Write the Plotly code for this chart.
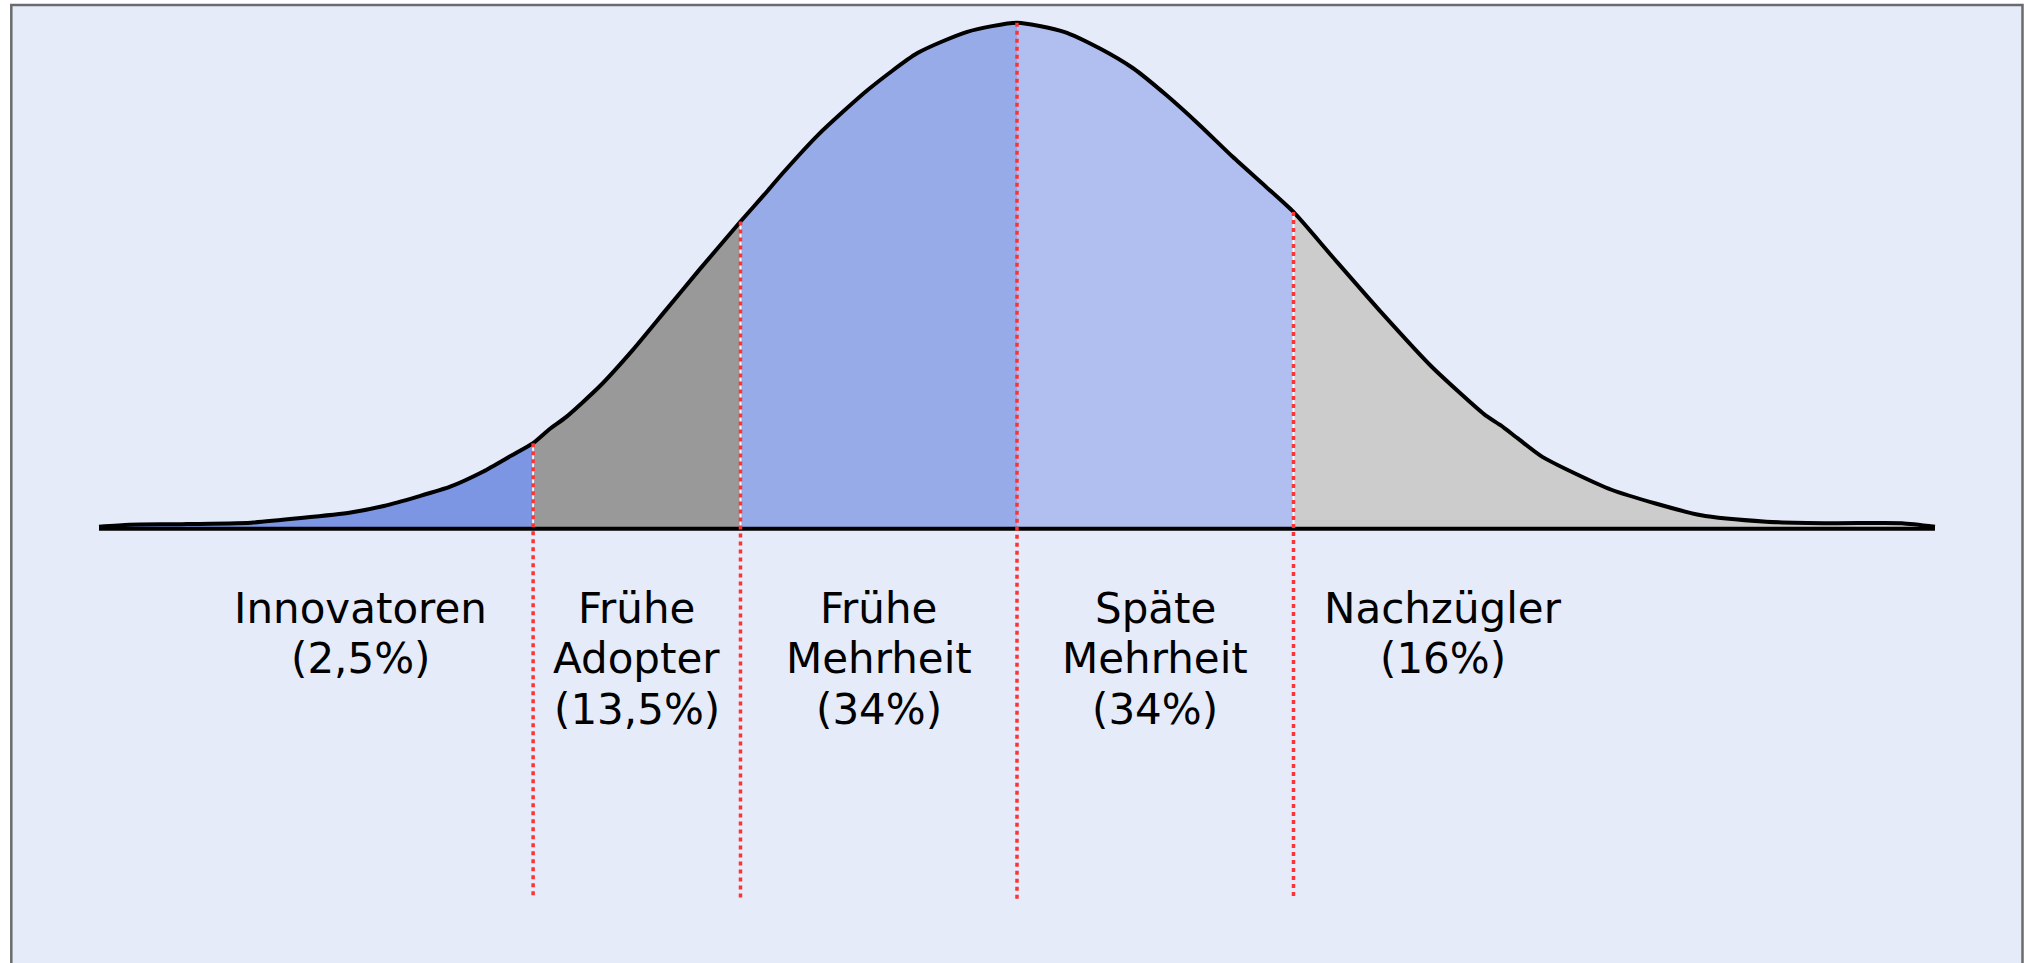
import plotly.graph_objects as go

# ---------------- data ----------------
# Bell curve of adopter categories: x in standard deviations from the mean,
# y as share of the peak height (%).
curve_x = [-3.32, -3.21, -3.02, -2.77, -2.59, -2.41, -2.29, -2.17, -2.05, -1.93,
           -1.83, -1.75, -1.69, -1.63, -1.51, -1.39, -1.27, -1.15, -1.0, -0.90,
           -0.85, -0.72, -0.54, -0.36, -0.18, 0.0, 0.17, 0.30, 0.42, 0.54,
           0.66, 0.78, 0.90, 1.0, 1.14, 1.32, 1.50, 1.69, 1.75, 1.81,
           1.90, 2.15, 2.47, 2.71, 2.95, 3.20, 3.32]
curve_y = [0.4, 0.8, 0.9, 1.2, 2.1, 3.2, 4.5, 6.3, 8.3, 11.3,
           14.4, 16.9, 19.7, 22.1, 28.1, 35.3, 43.2, 51.1, 60.7, 66.9,
           70.1, 77.8, 86.7, 94.0, 98.2, 100.0, 98.2, 94.9, 91.0, 85.7,
           79.8, 73.5, 67.6, 62.6, 53.8, 42.6, 32.0, 22.6, 20.4, 17.9,
           14.2, 7.7, 2.7, 1.4, 1.1, 1.1, 0.4]

boundaries = [-1.75, -1.0, 0.0, 1.0]
categories = ["Innovatoren", "Frühe Adopter", "Frühe Mehrheit", "Späte Mehrheit", "Nachzügler"]
shares = ["2,5%", "13,5%", "34%", "34%", "16%"]
label_lines = [["Innovatoren"], ["Frühe", "Adopter"], ["Frühe", "Mehrheit"],
               ["Späte", "Mehrheit"], ["Nachzügler"]]

# ---------------- style ----------------
fill_colors = ["#7D96E3", "#999999", "#97ABE8", "#B0BFEF", "#CCCCCC"]
label_x = [-2.375, -1.375, -0.5, 0.5, 1.54]
label_top = -10.5
line_step = -10.0
divider_bottom = -73.2
FONT = "DejaVu Sans, Verdana, sans-serif"

W, H = 2024, 963
x_range = [-3.6781, 3.6420]
y_range = [-85.83, 104.49]

fig = go.Figure()

# filled segments
edges = [curve_x[0]] + boundaries + [curve_x[-1]]
for i, cat in enumerate(categories):
    lo, hi = edges[i], edges[i + 1]
    idx = [k for k, xv in enumerate(curve_x) if lo <= xv <= hi]
    xs = [curve_x[k] for k in idx]
    ys = [curve_y[k] for k in idx]
    fig.add_trace(go.Scatter(
        x=xs + [xs[-1], xs[0]], y=ys + [0, 0],
        fill="toself", fillcolor=fill_colors[i], mode="lines",
        line=dict(width=0, color=fill_colors[i]),
        name=cat, hoverinfo="skip", showlegend=False))

# light seams under the dividers inside the fills
for b in boundaries:
    if b == 0.0:
        continue
    top = curve_y[curve_x.index(b)]
    fig.add_trace(go.Scatter(
        x=[b, b], y=[0, top], mode="lines",
        line=dict(color="rgba(255,255,255,0.85)", width=2),
        hoverinfo="skip", showlegend=False))

# curve outline
fig.add_trace(go.Scatter(
    x=curve_x, y=curve_y, mode="lines",
    line=dict(color="black", width=4, shape="spline", smoothing=0.6),
    hoverinfo="skip", showlegend=False))

# baseline
fig.add_trace(go.Scatter(
    x=[curve_x[0], curve_x[-1]], y=[0, 0], mode="lines",
    line=dict(color="black", width=4),
    hoverinfo="skip", showlegend=False))

# red dotted dividers
for b in boundaries:
    top = curve_y[curve_x.index(b)]
    fig.add_trace(go.Scatter(
        x=[b, b], y=[top, divider_bottom], mode="lines",
        line=dict(color="#FF3333", width=3.5, dash="4px,4px"),
        hoverinfo="skip", showlegend=False))

annotations = []
for i in range(len(categories)):
    lines = label_lines[i] + ["(" + shares[i] + ")"]
    for j, txt in enumerate(lines):
        annotations.append(dict(
            x=label_x[i], y=label_top + j * line_step, xref="x", yref="y",
            text=txt, showarrow=False, xanchor="center", yanchor="top",
            align="center", font=dict(family=FONT, size=42, color="black")))

fig.update_layout(
    width=W, height=H, autosize=False,
    margin=dict(l=0, r=0, t=0, b=0, pad=0),
    paper_bgcolor="white", plot_bgcolor="rgba(0,0,0,0)",
    xaxis=dict(range=x_range, visible=False, fixedrange=True),
    yaxis=dict(range=y_range, visible=False, fixedrange=True),
    showlegend=False,
    annotations=annotations,
    shapes=[dict(type="rect", xref="paper", yref="paper",
                 x0=11.3 / W, x1=2022.5 / W, y0=-0.05, y1=1 - 5 / H,
                 line=dict(color="#6B6B6B", width=2.5),
                 fillcolor="#E5EBF8", layer="below")],
)

fig.write_html("out.html", config={"displayModeBar": False, "staticPlot": True},
               post_script="document.body.style.margin='0';")
